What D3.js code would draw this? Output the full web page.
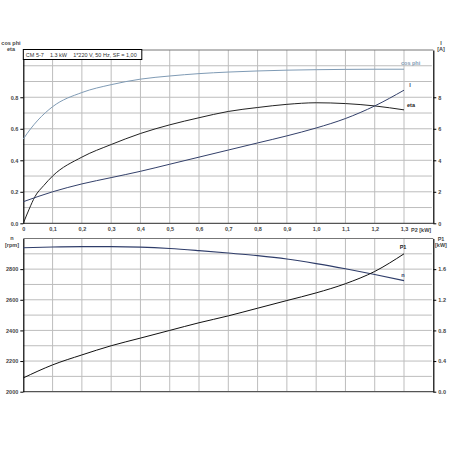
<!DOCTYPE html>
<html>
<head>
<meta charset="utf-8">
<script src="https://cdn.jsdelivr.net/npm/d3@7"></script>
<style>
  body { margin: 0; background: #fff; }
  text { font-family: "Liberation Sans", Arial, sans-serif; }
</style>
</head>
<body>
<div id="plot"></div>
<script>
// Data (P2 in kW on the x axis)
const p2 = [0, 0.025, 0.05, 0.1, 0.2, 0.3, 0.4, 0.5, 0.6, 0.7, 0.8, 0.9, 1.0, 1.1, 1.2, 1.3];
const cosPhi = [0.535, 0.60, 0.655, 0.74, 0.83, 0.88, 0.915, 0.935, 0.95, 0.96, 0.967, 0.972, 0.975, 0.977, 0.978, 0.978];

const etaP2 = [0, 0.02, 0.04, 0.07, 0.1, 0.2, 0.3, 0.4, 0.5, 0.6, 0.7, 0.8, 0.9, 1.0, 1.1, 1.2, 1.3];
const eta = [0, 0.09, 0.17, 0.24, 0.30, 0.42, 0.50, 0.57, 0.625, 0.67, 0.71, 0.735, 0.755, 0.765, 0.76, 0.745, 0.72];

const p2Main = [0, 0.1, 0.2, 0.3, 0.4, 0.5, 0.6, 0.7, 0.8, 0.9, 1.0, 1.1, 1.2, 1.3];
const current = [1.37, 2.0, 2.5, 2.9, 3.3, 3.75, 4.2, 4.65, 5.1, 5.55, 6.05, 6.65, 7.45, 8.45];
const speed = [2940, 2945, 2947, 2947, 2944, 2935, 2921, 2905, 2888, 2866, 2836, 2802, 2765, 2725];
const p1 = [0.18, 0.35, 0.48, 0.60, 0.70, 0.80, 0.90, 0.99, 1.09, 1.19, 1.29, 1.41, 1.57, 1.80];

const xTicks = [0, 0.1, 0.2, 0.3, 0.4, 0.5, 0.6, 0.7, 0.8, 0.9, 1.0, 1.1, 1.2, 1.3];
const effTicks = [0, 0.2, 0.4, 0.6, 0.8];
const ampTicks = [0, 2, 4, 6, 8];
const rpmTicks = [2000, 2200, 2400, 2600, 2800];
const kwTicks = [0, 0.4, 0.8, 1.2, 1.6];

const title = "CM 5-7    1.3 kW    1*220 V, 50 Hz, SF = 1,00";

// Layout
const W = 450, H = 450;
const left = 23.3, right = 433.3;
const top1 = 50, bot1 = 223.3;
const top2 = 238.5, bot2 = 391.7;

const svg = d3.select("div#plot").append("svg")
    .attr("width", W)
    .attr("height", H);

svg.append("rect")
    .attr("width", W).attr("height", H)
    .attr("fill", "#fff");

const x = d3.scaleLinear().domain([0, 1.4]).range([left, right]);
const yEff = d3.scaleLinear().domain([0, 1.1]).range([bot1, top1]);
const yAmp = d3.scaleLinear().domain([0, 11]).range([bot1, top1]);
const yRpm = d3.scaleLinear().domain([2000, 3000]).range([bot2, top2]);
const yKw = d3.scaleLinear().domain([0, 2]).range([bot2, top2]);

const gridColor = "#bdbdbd";
const labelColor = "#444";

// Grid for a panel
function drawGrid(yScale, yVals, topY, botY) {
  const g = svg.append("g");
  g.selectAll("line.v")
    .data(d3.range(1, 14).map(i => i / 10))
    .enter().append("line")
      .attr("x1", d => x(d)).attr("x2", d => x(d))
      .attr("y1", topY).attr("y2", botY)
      .attr("stroke", gridColor).attr("stroke-width", 1);
  g.selectAll("line.h")
    .data(yVals)
    .enter().append("line")
      .attr("x1", left).attr("x2", right - 1.5)
      .attr("y1", d => yScale(d)).attr("y2", d => yScale(d))
      .attr("stroke", gridColor).attr("stroke-width", 1);
  // top border
  g.append("line")
    .attr("x1", left).attr("x2", right)
    .attr("y1", topY).attr("y2", topY)
    .attr("stroke", "#777").attr("stroke-width", 1);
  // bottom border
  g.append("line")
    .attr("x1", left).attr("x2", right)
    .attr("y1", botY).attr("y2", botY)
    .attr("stroke", "#555").attr("stroke-width", 1.3);
}

drawGrid(yEff, d3.range(1, 11).map(i => i / 10), top1, bot1);
drawGrid(yRpm, d3.range(1, 10).map(i => 2000 + i * 100), top2, bot2);

// Axes
function styleAxis(g) {
  g.select(".domain").attr("stroke", "#000").attr("stroke-width", 1.2);
  g.selectAll(".tick line").attr("stroke", "#000");
  g.selectAll(".tick text")
    .attr("fill", labelColor)
    .style("font-size", "5.5px")
    .style("font-weight", "bold");
}

const fmtDot1 = d3.format(".1f");

svg.append("g")
    .attr("transform", `translate(${left},0)`)
    .call(d3.axisLeft(yEff).tickValues(effTicks).tickFormat(fmtDot1).tickSize(3).tickSizeOuter(0).tickPadding(2))
    .call(styleAxis);

svg.append("g")
    .attr("transform", `translate(${right},0)`)
    .call(d3.axisRight(yAmp).tickValues(ampTicks).tickFormat(d3.format("d")).tickSize(3).tickSizeOuter(0).tickPadding(2))
    .call(styleAxis);

svg.append("g")
    .attr("transform", `translate(${left},0)`)
    .call(d3.axisLeft(yRpm).tickValues(rpmTicks).tickFormat(d3.format("d")).tickSize(3).tickSizeOuter(0).tickPadding(2))
    .call(styleAxis);

svg.append("g")
    .attr("transform", `translate(${right},0)`)
    .call(d3.axisRight(yKw).tickValues(kwTicks).tickFormat(fmtDot1).tickSize(3).tickSizeOuter(0).tickPadding(2))
    .call(styleAxis);

// X tick labels (comma decimals), no tick marks
const xAxis = svg.append("g")
    .attr("transform", `translate(0,${bot1 + 3})`)
    .call(d3.axisBottom(x).tickValues(xTicks)
      .tickFormat(d => d === 0 ? "0" : d.toFixed(1).replace(".", ","))
      .tickSize(0).tickPadding(1));
xAxis.select(".domain").remove();
xAxis.selectAll(".tick text")
    .attr("fill", labelColor)
    .style("font-size", "5.5px")
    .style("font-weight", "bold");

function label(txt, lx, ly, anchor, color) {
  svg.append("text")
    .attr("x", lx).attr("y", ly)
    .attr("text-anchor", anchor || "middle")
    .attr("fill", color || labelColor)
    .style("font-size", "5.5px")
    .style("font-weight", "bold")
    .text(txt);
}

label("P2 [kW]", 411, bot1 + 9, "start");
label("cos phi", 11, 45);
label("eta", 11, 51);
label("I", 441, 45);
label("[A]", 441, 51);
label("n", 12, 240);
label("[rpm]", 12, 247);
label("P1", 441, 241);
label("[kW]", 441, 247);

// Title box
svg.append("rect")
    .attr("x", left).attr("y", 49.5)
    .attr("width", 118.5).attr("height", 10)
    .attr("fill", "#fff").attr("stroke", "#000").attr("stroke-width", 1);
svg.append("text")
    .attr("x", left + 2.5).attr("y", 56.8)
    .attr("fill", "#333")
    .style("font-size", "5.5px")
    .style("white-space", "pre")
    .attr("xml:space", "preserve")
    .text(title);

// Curves
const curve = d3.curveMonotoneX;
function drawLine(xs, ys, yScale, color, width) {
  const pts = xs.map((d, i) => [d, ys[i]]);
  svg.append("path")
    .datum(pts)
    .attr("fill", "none")
    .attr("stroke", color)
    .attr("stroke-width", width || 1)
    .attr("d", d3.line().x(d => x(d[0])).y(d => yScale(d[1])).curve(curve));
}

drawLine(p2, cosPhi, yEff, "#7f9bb5", 1);
drawLine(etaP2, eta, yEff, "#222", 1);
drawLine(p2Main, current, yAmp, "#33406a", 1);
drawLine(p2Main, speed, yRpm, "#2f3d6a", 1.1);
drawLine(p2Main, p1, yKw, "#111", 1);

// Curve labels
label("cos phi", 401, 64.5, "start", "#7f9bb5");
label("I", 410, 87, "middle", "#33406a");
label("eta", 407, 107, "start", "#222");
label("P1", 403, 249, "middle", "#222");
label("n", 403, 277, "middle", "#33406a");
</script>
</body>
</html>
